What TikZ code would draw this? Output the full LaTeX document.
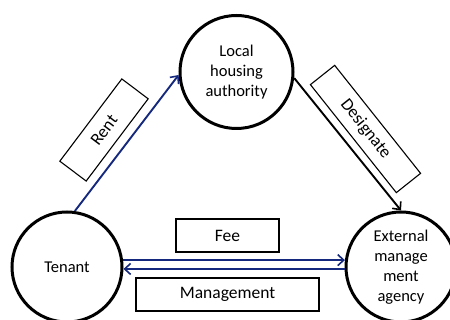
\documentclass[tikz,border=0pt]{standalone}
\usepackage{fontspec}
\setmainfont{Carlito}
\usepackage{tikz}
\usetikzlibrary{arrows.meta}
\definecolor{navy}{RGB}{20,40,125}

\begin{document}
\begin{tikzpicture}[x=1pt,y=1pt,
   party/.style={circle,draw,line width=3pt,inner sep=0pt,align=center,font=\fontsize{16.5}{20}\selectfont},
   tag/.style={rectangle,draw,line width=1.1pt,inner sep=0pt,font=\fontsize{17.5}{20}\selectfont},
   flow/.style={line width=1.9pt,-{Straight Barb[length=6pt,width=11pt,line width=1.6pt]}}]
\useasboundingbox (0,0) rectangle (450,320);
\node[party,minimum size=113pt] (lha) at (236.5,248) {Local\\housing\\authority};
\node[party,minimum size=110pt] (tenant) at (67,53) {Tenant};
\node[party,minimum size=110pt] (ema) at (401,53) {External\\manage\\ment\\agency};
\draw[flow,navy] (tenant.82) -- (lha.183);
\draw[flow] (lha.-6) -- (ema.90);
\draw[flow,navy] (tenant.7) -- (ema.173);
\draw[flow,navy] (ema.182) -- (tenant.-2);
\node[tag,rotate=53,minimum width=103pt,minimum height=33pt] (rent) at (104,190) {Rent};
\node[tag,rotate=-51.5,minimum width=138pt,minimum height=31pt] (desig) at (365.5,191) {Designate};
\node[tag,minimum width=103pt,minimum height=33pt] (fee) at (227.5,84.5) {Fee};
\node[tag,minimum width=183pt,minimum height=33pt] (mgmt) at (227.5,25.5) {Management};
\end{tikzpicture}
\end{document}
